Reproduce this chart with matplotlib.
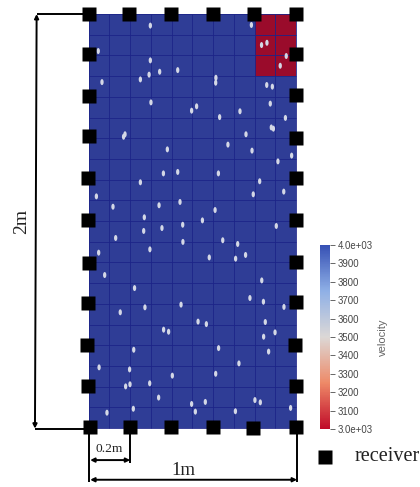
import numpy as np
import matplotlib
matplotlib.use("Agg")
import matplotlib.pyplot as plt
from matplotlib.collections import EllipseCollection
from matplotlib.colors import LinearSegmentedColormap, Normalize
from matplotlib.cm import ScalarMappable

# grid (metres) and velocity field
x_edges = np.arange(0, 11) * 0.1
y_edges = np.arange(0, 21) * 0.1
background_velocity = 4000
anomaly_velocity = 3000
anomaly_x = (0.8, 1.0)
anomaly_y = (1.7, 2.0)

# pore positions (metres)
pore_x = [.298,.047,.298,.292,.343,.430,.250,.065,.301,.521,.497,.169,.176,.380,.361,.430,.250,.038,.118,.340,.441,.269,.549,.266,.354,.454,.131,.455,
          .785,.834,.860,.953,.924,.614,.613,.859,.886,.876,.730,.632,.949,.881,.891,.759,.672,.788,.979,.913,.626,.825,.941,.794,.610,.905,.647,.719,
          .049,.296,.582,.078,.222,.153,.272,.446,.528,.568,.362,.386,.218,.051,.198,.404,.200,.179,.295,.338,.497,.563,.515,.089,.216,
          .757,.709,.835,.778,.843,.942,.852,.844,.899,.868,.627,.725,.613,.802,.828,.708,.974]
pore_y = [1.944,1.821,1.776,1.707,1.721,1.729,1.684,1.671,1.573,1.554,1.533,1.407,1.419,1.346,1.230,1.237,1.187,1.119,1.069,1.076,1.092,1.018,1.003,.952,.966,.982,.918,.899,
          1.947,1.850,1.861,1.797,1.750,1.692,1.668,1.657,1.649,1.567,1.530,1.502,1.498,1.452,1.446,1.419,1.369,1.340,1.316,1.288,1.230,1.192,1.142,1.129,1.053,.976,.907,.889,
          .847,.863,.824,.739,.676,.559,.583,.596,.514,.502,.475,.465,.378,.293,.283,.253,.211,.201,.216,.147,.116,.126,.079,.074,.093,
          .836,.818,.713,.628,.610,.585,.512,.441,.462,.369,.386,.312,.262,.135,.124,.081,.097]

# receiver positions (metres)
top_x = [.002,.197,.399,.600,.798,1.0]
top_y = [2.0,1.998,1.998,1.998,1.998,1.998]
bottom_x = [.006,.200,.399,.600,.793,1.0]
bottom_y = [.005,.005,.005,.005,.002,.005]
left_x = [.002,0,0,-.004,-.004,0,-.004,-.007,-.004]
left_y = [1.808,1.605,1.412,1.206,1.006,.799,.605,.403,.201]
right_x = [1.0,1.0,1.0,1.0,1.0,1.0,1.0,.997,1.0]
right_y = [1.805,1.610,1.400,1.206,1.004,.801,.608,.401,.201]

cbar_ticks = [3000,3100,3200,3300,3400,3500,3600,3700,3800,3900,4000]
cbar_labels = ["3.0e+03","3100","3200","3300","3400","3500","3600","3700","3800","3900","4.0e+03"]

fig = plt.figure(figsize=(4.2, 4.87), dpi=100)
ax = fig.add_axes([0, 0, 1, 1])
ax.set_xlim(-88.5/207.5, (420-88.5)/207.5)
ax.set_ylim((428-487)/207, 428/207)
ax.axis("off")

xc = (x_edges[:-1] + x_edges[1:]) / 2
yc = (y_edges[:-1] + y_edges[1:]) / 2
field = np.where((xc[None, :] > anomaly_x[0]) & (xc[None, :] < anomaly_x[1]) &
                 (yc[:, None] > anomaly_y[0]) & (yc[:, None] < anomaly_y[1]),
                 anomaly_velocity, background_velocity)
field_cmap = LinearSegmentedColormap.from_list("field", ["#9a0b2b", "#2f3d96"])
ax.pcolormesh(x_edges, y_edges, field, cmap=field_cmap, vmin=3000, vmax=4000, zorder=1)
ax.vlines(x_edges, 0, 2, color="#1c2488", lw=0.6, zorder=2)
ax.hlines(y_edges, 0, 1, color="#1c2488", lw=0.6, zorder=2)

pores = EllipseCollection(np.full(len(pore_x), 0.016), np.full(len(pore_x), 0.029),
                          np.zeros(len(pore_x)), units="xy",
                          offsets=np.column_stack([pore_x, pore_y]),
                          offset_transform=ax.transData,
                          facecolors="#d4d8e6", edgecolors="none", zorder=3)
ax.add_collection(pores)

ms = 9.6
for xs, ys in [(top_x, top_y), (bottom_x, bottom_y), (left_x, left_y), (right_x, right_y)]:
    ax.plot(xs, ys, ls="none", marker="s", ms=ms, mfc="black", mec="none", zorder=5)

lw = 1.4
def seg(x0, y0, x1, y1):
    ax.plot([x0, x1], [y0, y1], color="black", lw=lw, solid_capstyle="butt", zorder=4)
def arrow(x0, y0, x1, y1, style):
    ax.annotate("", xy=(x1, y1), xytext=(x0, y0),
                arrowprops=dict(arrowstyle=style, color="black", lw=lw,
                                shrinkA=0, shrinkB=0, mutation_scale=6), zorder=4)

seg(-.250, 2.0, 0, 2.0)
seg(-.258, -.003, 0, -.003)
arrow(-.250, 2.0, -.258, -.003, "<|-|>")
seg(.002, 0, .002, -.262)
seg(.201, 0, .201, -.169)
seg(1.005, 0, 1.005, -.262)
arrow(.008, -.155, .201, -.155, "<|-|>")
arrow(.008, -.250, 1.005, -.250, "<|-|>")

serif = "Liberation Serif"
ax.text(-.323, 1.0, "2m", rotation=90, ha="center", va="center", family=serif, fontsize=14, color="#222222")
ax.text(.100, -.103, "0.2m", ha="center", va="center", family=serif, fontsize=9.7, color="#222222")
ax.text(.455, -.205, "1m", ha="center", va="center", family=serif, fontsize=13.5, color="#222222")
ax.plot([1.140], [-.140], ls="none", marker="s", ms=ms, mfc="black", mec="none")
ax.text(1.280, -.140, "receiver", ha="left", va="center", family=serif, fontsize=14.6, color="#222222")

cbar_cmap = LinearSegmentedColormap.from_list(
    "cw", ["#c00a28", "#ee8a68", "#dcd8d6", "#8fb0e6", "#3650b4"])
cax = fig.add_axes([320/420, 1-429/487, 9.5/420, 184/487])
cb = fig.colorbar(ScalarMappable(Normalize(3000, 4000), cbar_cmap), cax=cax)
cb.outline.set_visible(False)
cb.set_ticks(cbar_ticks, labels=cbar_labels)
cb.ax.tick_params(length=3.6, width=0.7, color="#666666", labelcolor="#444444",
                  labelsize=6.9, pad=2.5)
for t in cb.ax.get_yticklabels():
    t.set_family("Liberation Sans")
cb.ax.text(383/420, 1-337/487, "velocity", rotation=90, ha="center", va="center",
           transform=fig.transFigure, family="Liberation Sans", fontsize=8, color="#666666")

fig.savefig("out.png", dpi=100)
